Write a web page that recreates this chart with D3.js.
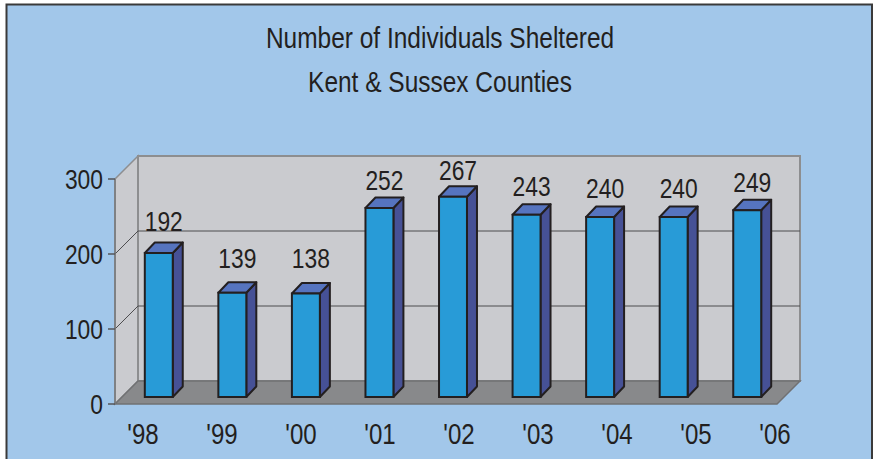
<!DOCTYPE html>
<html>
<head>
<meta charset="utf-8">
<script src="https://cdn.jsdelivr.net/npm/d3@7/dist/d3.min.js"></script>
<style>
  html, body { margin: 0; padding: 0; background: #ffffff; }
  svg { display: block; }
  text { font-family: "Liberation Sans Narrow", "Arial Narrow", "Liberation Sans", Arial, sans-serif; fill: #231f20; }
</style>
</head>
<body>
<svg id="chart" width="874" height="459"></svg>
<script>
const titleLines = ["Number of Individuals Sheltered", "Kent & Sussex Counties"];
const years = ["'98", "'99", "'00", "'01", "'02", "'03", "'04", "'05", "'06"];
const values = [192, 139, 138, 252, 267, 243, 240, 240, 249];
const yTicks = [0, 100, 200, 300];
const gridValues = [100, 200];

const svg = d3.select("#chart");
const SX = 0.83; // horizontal condensing of text
const place = (fx, fy) => (d, i) => `translate(${fx(d, i)},${fy(d, i)}) scale(${SX},1)`;

// frame
svg.append("rect").attr("x", 6.5).attr("y", 4.5).attr("width", 865.5).attr("height", 470)
  .attr("fill", "#a2c7ea").attr("stroke", "#3a3a3a").attr("stroke-width", 2);

// title
svg.append("g").selectAll("text").data(titleLines).join("text")
  .attr("transform", place(() => 440, (d, i) => 48 + i * 44))
  .attr("text-anchor", "middle").attr("font-size", 29.5)
  .text(d => d);

// scales
const y = d3.scaleLinear().domain([0, 300]).range([404, 179]);
const x = d3.scaleBand().domain(years).range([115, 777]).paddingInner(0.62).paddingOuter(0.31);
const xLab = d3.scalePoint().domain(years).range([143, 775]);
const yLab = d3.scaleLinear().domain([0, 300]).range([363, 157]);

const DX = 23, DY = -23;      // wall depth
const x0 = 115, x1 = 777;
const yTop = y(300), yBot = y(0);

// side wall
svg.append("path")
  .attr("d", `M${x0},${yTop} L${x0 + DX},${yTop + DY} L${x0 + DX},${yBot + DY} L${x0},${yBot} Z`)
  .attr("fill", "#cacbcf").attr("stroke", "#8d8e90").attr("stroke-width", 1.5);
// back wall
svg.append("rect").attr("x", x0 + DX).attr("y", yTop + DY)
  .attr("width", x1 - x0).attr("height", yBot - yTop)
  .attr("fill", "#cacbcf").attr("stroke", "#8d8e90").attr("stroke-width", 2);

// gridlines
const grid = svg.append("g");
gridValues.forEach(v => {
  grid.append("path")
    .attr("d", `M${x0},${y(v)} L${x0 + DX},${y(v) + DY} L${x1 + DX},${y(v) + DY}`)
    .attr("fill", "none").attr("stroke", "#4d4d4f").attr("stroke-width", 1);
});

// floor
svg.append("path")
  .attr("d", `M${x0},${yBot} L${x1},${yBot} L${x1 + DX},${yBot + DY} L${x0 + DX},${yBot + DY} Z`)
  .attr("fill", "#88898b").attr("stroke", "#707173").attr("stroke-width", 1.5);

// front axis
svg.append("line").attr("x1", x0).attr("x2", x0).attr("y1", yTop).attr("y2", yBot)
  .attr("stroke", "#77787a").attr("stroke-width", 1.5);
const ticks = svg.append("g");
ticks.selectAll("line").data(yTicks).join("line")
  .attr("x1", x0 - 7).attr("x2", x0).attr("y1", d => y(d)).attr("y2", d => y(d))
  .attr("stroke", "#55565a").attr("stroke-width", 1.5);
ticks.selectAll("text").data(yTicks).join("text")
  .attr("transform", place(() => x0 - 12, d => y(d) + 9.5))
  .attr("text-anchor", "end").attr("font-size", 27.5)
  .text(d => d);

// bars
const BD = 7;            // bar front depth offset
const bdx = 10, bdy = -10.5; // bar depth
const bw = x.bandwidth();
const bars = svg.append("g").selectAll("g").data(values).join("g");
bars.each(function (v, i) {
  const g = d3.select(this);
  const left = x(years[i]) + BD;
  const right = left + bw;
  const top = y(v) - BD;
  const bottom = y(0) - BD;
  g.append("path")
    .attr("d", `M${right},${top} L${right + bdx},${top + bdy} L${right + bdx},${bottom + bdy} L${right},${bottom} Z`)
    .attr("fill", "#465196").attr("stroke", "#231f20").attr("stroke-width", 2).attr("stroke-linejoin", "round");
  g.append("path")
    .attr("d", `M${left},${top} L${left + bdx},${top + bdy} L${right + bdx},${top + bdy} L${right},${top} Z`)
    .attr("fill", "#5674bf").attr("stroke", "#231f20").attr("stroke-width", 2).attr("stroke-linejoin", "round");
  g.append("rect").attr("x", left).attr("y", top).attr("width", bw).attr("height", bottom - top)
    .attr("fill", "#289bd7").attr("stroke", "#231f20").attr("stroke-width", 2);
});

// value labels
svg.append("g").selectAll("text").data(values).join("text")
  .attr("transform", place((d, i) => x(years[i]) + BD + bw / 2 + 5, d => yLab(d)))
  .attr("text-anchor", "middle").attr("font-size", 27.5)
  .text(d => d);

// category labels
svg.append("g").selectAll("text").data(years).join("text")
  .attr("transform", place(d => xLab(d), () => 444))
  .attr("text-anchor", "middle").attr("font-size", 29)
  .text(d => d);
</script>
</body>
</html>
